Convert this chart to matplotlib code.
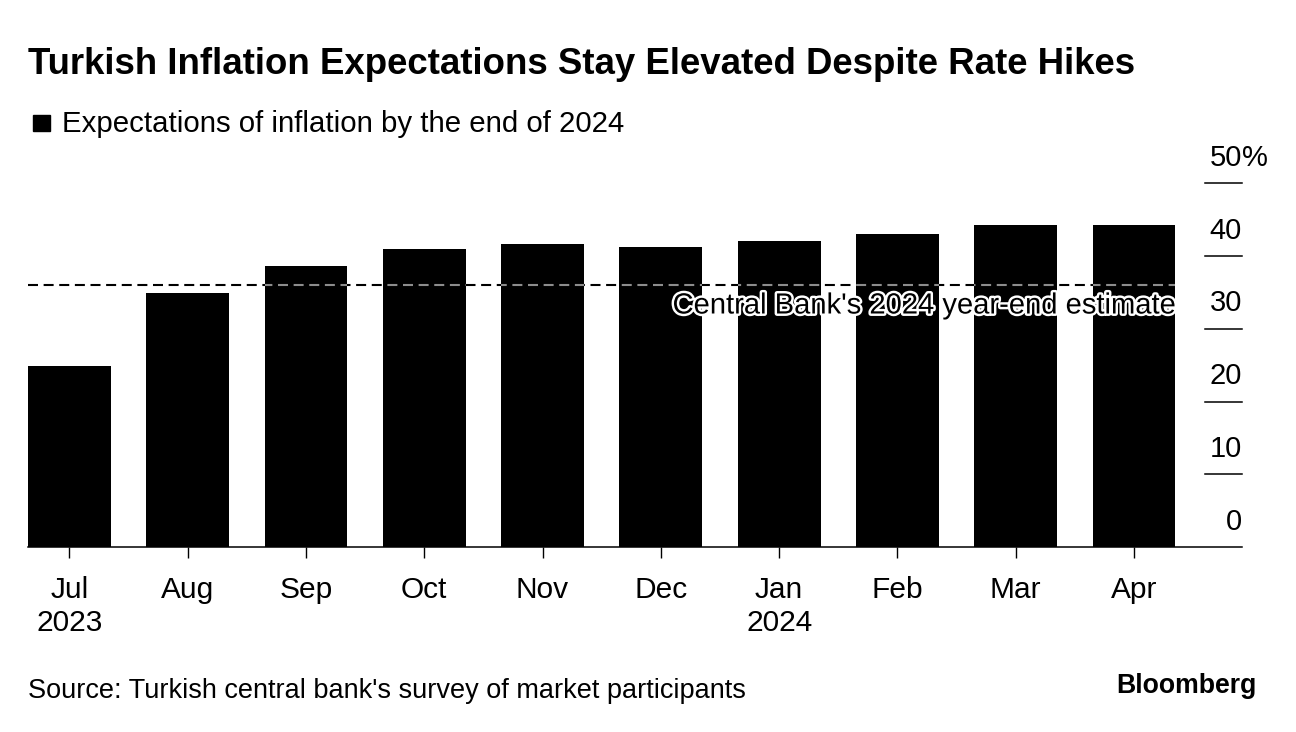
import numpy as np
import matplotlib
matplotlib.use("Agg")
import matplotlib.pyplot as plt
import matplotlib.patheffects as pe
from matplotlib.patches import Rectangle

plt.rcParams['font.family'] = ['Liberation Sans', 'DejaVu Sans']

# data
months = ['Jul\n2023', 'Aug', 'Sep', 'Oct', 'Nov', 'Dec', 'Jan\n2024', 'Feb', 'Mar', 'Apr']
expectations = [24.9, 34.9, 38.6, 41.0, 41.7, 41.2, 42.0, 43.0, 44.2, 44.2]
cb_estimate = 36.0
y_ticks = [0, 10, 20, 30, 40, 50]

fig = plt.figure(figsize=(12.96, 7.32), dpi=100)
ax = fig.add_axes([28/1296, 1 - 547/732, (1242-28)/1296, (547-183.3)/732])

x = np.arange(len(months))
bars = ax.bar(x, expectations, width=0.70, color='black', zorder=2)

ax.set_xlim(-0.35, 9.913)
ax.set_ylim(0, 50)

# central bank estimate: dashed line, lighter dashes where it crosses the bars
ax.plot([-0.35, 9.35], [cb_estimate, cb_estimate], color='black', lw=1.5,
        dashes=(4.8, 2.7), zorder=3, dash_capstyle='butt')
for b in bars:
    ln, = ax.plot([-0.35, 9.35], [cb_estimate, cb_estimate], color='#8c8c8c', lw=1.5,
                  dashes=(4.8, 2.7), zorder=4, dash_capstyle='butt')
    ln.set_clip_path(b)
ax.text(9.35, 32.1, "Central Bank's 2024 year-end estimate", ha='right', va='baseline',
        fontsize=21, color='black', zorder=5,
        path_effects=[pe.withStroke(linewidth=3.5, foreground='white')])

# spines and ticks
for s in ['top', 'right', 'left']:
    ax.spines[s].set_visible(False)
ax.spines['bottom'].set_linewidth(1.1)
ax.set_yticks([])
ax.set_xticks(x)
ax.set_xticklabels(months, fontsize=21.5, linespacing=1.24)
ax.tick_params(axis='x', length=8, width=1.0, pad=13, colors='black')

# short gridlines and labels on the right
for v in y_ticks:
    if v > 0:
        ax.axhline(v, xmin=(1205-28)/1214, xmax=1.0, color='black', lw=1.1, clip_on=False)
    ax.text(9.913, v + 2.4, str(v), ha='right', va='baseline', fontsize=21)
ax.text(9.913, 50 + 2.4, '%', ha='left', va='baseline', fontsize=21)

# title, legend, footer
fig.text(28/1296, 1 - 73.5/732, 'Turkish Inflation Expectations Stay Elevated Despite Rate Hikes',
         fontsize=26.4, fontweight='bold', ha='left', va='baseline')
fig.patches.append(Rectangle((33/1296, 1 - 131/732), 17/1296, 16/732,
                             transform=fig.transFigure, color='black'))
fig.text(62/1296, 1 - 132/732, 'Expectations of inflation by the end of 2024',
         fontsize=21.2, ha='left', va='baseline')
fig.text(28/1296, 1 - 698/732, "Source: Turkish central bank's survey of market participants",
         fontsize=19.5, ha='left', va='baseline')
fig.text(1257/1296, 1 - 693/732, 'Bloomberg', fontsize=19.2, fontweight='bold',
         ha='right', va='baseline')

fig.savefig('out.png', dpi=100)
